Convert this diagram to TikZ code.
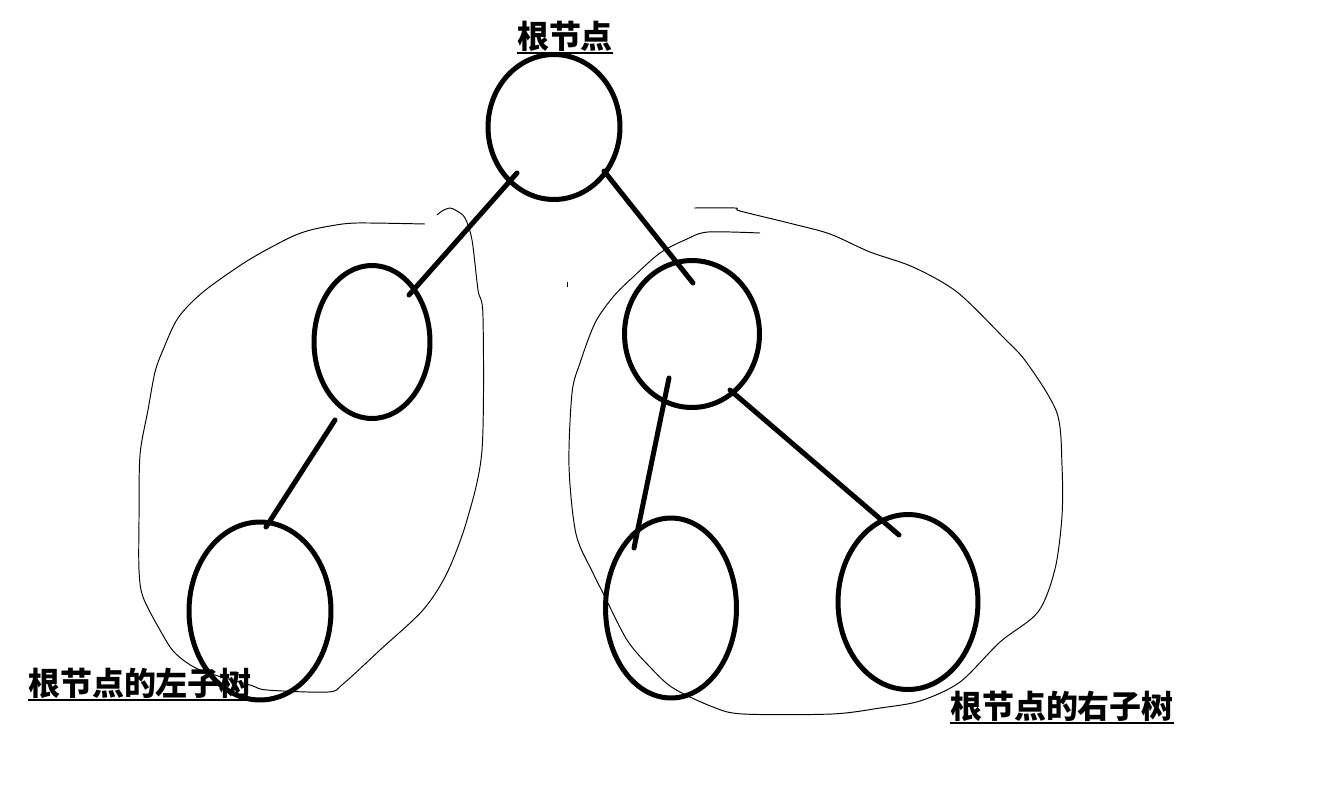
\documentclass[tikz,border=0pt]{standalone}
\usepackage{fontspec}
\newfontfamily\cjk{Noto Sans CJK SC}
\usepackage{tikz}
\usetikzlibrary{shapes.geometric,calc}

% thick bar under a label
\newcommand\uln[1]{\sbox0{#1}\rlap{\rule[-3.5pt]{\wd0}{1.4pt}}\usebox0}

\begin{document}
\begin{tikzpicture}[
  x=0.02cm, y=-0.02cm,
  nd/.style={draw, ellipse, line width=2.85pt, inner sep=0pt},
  lnk/.style={line width=2.85pt, line cap=round},
  hull/.style={line width=0.55pt, line join=round},
  lab/.style={font={\cjk\bfseries\fontsize{18.2}{20}\selectfont},
              inner sep=0pt, anchor=base},
]
\useasboundingbox (0,0) rectangle (1329,785);

% Subtree outlines
\draw[hull] plot[smooth, tension=0.5] coordinates {
  (425,224) (357,223) (330,226) (307,231) (287,239) (247,261) (203,292)
  (178,318) (163,350) (155,372) (148,410) (140,455) (139,520) (139,570)
  (143,597) (160,630) (175,653) (200,670) (250,685) (267,690) (328,692)
  (343,684) (380,650) (423,610) (447,573) (467,520) (482,450) (483,317)
  (478,290) (472,240) (465,218) (457,211) (450,208) (442,211) (437,215)};
\draw[hull] plot[smooth, tension=0.5] coordinates {
  (694,208) (735,208) (740,211) (793,224) (830,234) (870,252) (913,267)
  (957,292) (1003,337) (1027,363) (1057,413) (1062,466) (1062,516)
  (1055,569) (1038,612) (1000,642) (960,682) (920,701) (880,708)
  (832,714) (743,714) (713,707) (673,688) (650,667) (627,640) (603,593)
  (593,573) (576,534) (569,466) (572,393) (580,363) (595,323) (613,297)
  (632,278) (660,253) (687,239) (708,232) (760,233)};
\draw[hull] (567,282) -- (567,287);

% Tree nodes
\node[nd, minimum width=2.64cm, minimum height=2.90cm] (root) at (554,127) {};
\node[nd, minimum width=2.32cm, minimum height=3.06cm] (L) at (372,342) {};
\node[nd, minimum width=2.84cm, minimum height=3.56cm] (LL) at (260,611) {};
\node[nd, minimum width=2.70cm, minimum height=2.94cm] (R) at (692,334) {};
\node[nd, minimum width=2.62cm, minimum height=3.60cm] (RL) at (671,608) {};
\node[nd, minimum width=2.80cm, minimum height=3.50cm] (RR) at (908,602) {};

\draw[lnk] ($(root.center)+(-37,46)$) -- ($(L.center)+(37,-47)$);
\draw[lnk] ($(root.center)+(50,44)$) -- ($(R.center)+(1,-51)$);
\draw[lnk] ($(L.center)+(-37,78)$) -- ($(LL.center)+(6,-84)$);
\draw[lnk] ($(R.center)+(-23,44)$) -- ($(RL.center)+(-37,-60)$);
\draw[lnk] ($(R.center)+(38,56)$) -- ($(RR.center)+(-9,-67)$);

% Labels
\node[lab] (tRoot) at (565,48) {\uln{根节点}};
\node[lab] (tLeft) at (140,695) {\uln{根节点的左子树}};
\node[lab] (tRight) at (1062,718) {\uln{根节点的右子树}};
\end{tikzpicture}
\end{document}
